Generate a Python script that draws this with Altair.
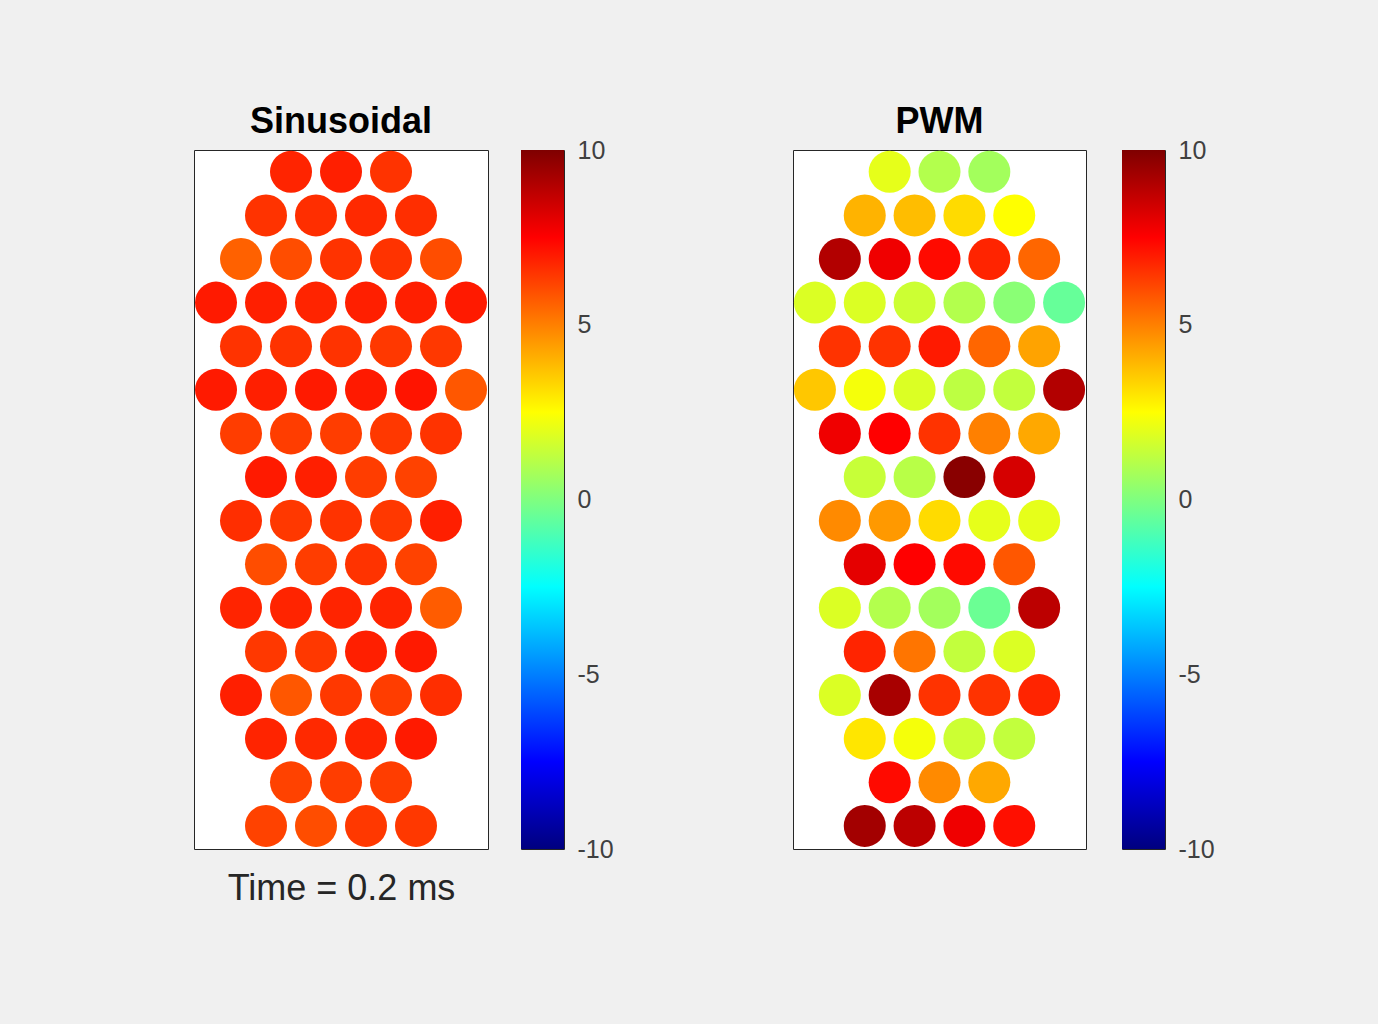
import altair as alt
import pandas as pd

# ---- layout of the electrode grid (half-step column index, row index) ----
ROW_COLUMNS = [
    [3, 5, 7],
    [2, 4, 6, 8],
    [1, 3, 5, 7, 9],
    [0, 2, 4, 6, 8, 10],
    [1, 3, 5, 7, 9],
    [0, 2, 4, 6, 8, 10],
    [1, 3, 5, 7, 9],
    [2, 4, 6, 8],
    [1, 3, 5, 7, 9],
    [2, 4, 6, 8],
    [1, 3, 5, 7, 9],
    [2, 4, 6, 8],
    [1, 3, 5, 7, 9],
    [2, 4, 6, 8],
    [3, 5, 7],
    [2, 4, 6, 8],
]

SIN_VALUES = [
    [6.8, 6.9, 6.5],
    [6.5, 6.6, 6.7, 6.6],
    [5.6, 6.0, 6.5, 6.5, 6.0],
    [7.0, 6.9, 6.8, 6.9, 6.9, 7.0],
    [6.5, 6.5, 6.5, 6.4, 6.4],
    [7.0, 6.9, 7.0, 7.0, 7.1, 5.8],
    [6.3, 6.3, 6.3, 6.4, 6.5],
    [7.0, 6.9, 6.3, 6.2],
    [6.6, 6.4, 6.5, 6.4, 6.9],
    [6.0, 6.3, 6.5, 6.2],
    [6.8, 6.8, 6.8, 6.8, 5.7],
    [6.4, 6.4, 6.9, 7.0],
    [6.9, 5.8, 6.4, 6.3, 6.6],
    [6.8, 6.7, 6.8, 7.0],
    [6.2, 6.3, 6.3],
    [6.2, 6.0, 6.4, 6.4],
]

PWM_VALUES = [
    [2.0, 1.0, 0.7],
    [4.0, 3.8, 3.2, 2.5],
    [9.0, 7.8, 7.3, 6.8, 5.5],
    [1.8, 1.8, 1.5, 1.0, 0.2, -0.5],
    [6.5, 6.5, 7.0, 5.5, 4.3],
    [3.6, 2.3, 1.8, 1.2, 1.3, 9.0],
    [7.8, 7.5, 6.5, 5.0, 4.2],
    [1.4, 1.1, 9.8, 8.3],
    [4.8, 4.5, 3.2, 2.0, 2.0],
    [8.0, 7.5, 7.3, 5.8],
    [1.8, 1.0, 0.7, -0.4, 8.8],
    [6.8, 5.2, 1.3, 1.8],
    [1.8, 9.2, 6.5, 6.5, 6.8],
    [3.0, 2.3, 1.5, 1.3],
    [7.3, 4.8, 4.2],
    [9.3, 8.8, 7.8, 7.2],
]

TITLES = ["Sinusoidal", "PWM"]
XLABEL = "Time = 0.2 ms"
CBAR_TICKS = [-10, -5, 0, 5, 10]
CLIM = [-10, 10]

# jet colormap
JET_POS = [-10, -7.5, -2.5, 2.5, 7.5, 10]
JET_COLORS = ["#00007f", "#0000ff", "#00ffff", "#ffff00", "#ff0000", "#7f0000"]

FONT = "Liberation Sans"


def make_df(values):
    recs = []
    for r, (cols, vals) in enumerate(zip(ROW_COLUMNS, values)):
        for c, v in zip(cols, vals):
            recs.append({"col": c, "row": r + 1, "value": v})
    return pd.DataFrame(recs)


jet_scale = alt.Scale(domain=JET_POS, range=JET_COLORS, interpolate="rgb")


def panel(values, title, xlabel=None, width=294):
    if xlabel:
        xaxis = alt.Axis(title=xlabel, ticks=False, labels=False, domain=False, grid=False,
                         titleFontSize=36, titleFontWeight="normal", titleColor="#262626",
                         titlePadding=22, titleFont=FONT)
    else:
        xaxis = None
    return alt.Chart(make_df(values)).mark_point(
        filled=True, shape="circle", size=1764, opacity=1, strokeWidth=0
    ).encode(
        x=alt.X("col:Q", scale=alt.Scale(domain=[-0.88, 10.88], nice=False, zero=False), axis=xaxis),
        y=alt.Y("row:Q", scale=alt.Scale(domain=[0.5, 16.53], reverse=True, nice=False, zero=False), axis=None),
        color=alt.Color("value:Q", scale=jet_scale, legend=None),
    ).properties(
        width=width, height=699,
        title=alt.TitleParams(title, fontSize=36, fontWeight="bold", font=FONT, color="#000000",
                              offset=9, anchor="middle"),
    )


grad_stops = [{"offset": (p - CLIM[0]) / (CLIM[1] - CLIM[0]), "color": c} for p, c in zip(JET_POS, JET_COLORS)]
gradient = {"gradient": "linear", "x1": 0, "y1": 1, "x2": 0, "y2": 0, "stops": grad_stops}


def colorbar():
    return alt.Chart(pd.DataFrame({"lo": [CLIM[0]], "hi": [CLIM[1]]})).mark_rect(
        fill=gradient
    ).encode(
        y=alt.Y("lo:Q", scale=alt.Scale(domain=CLIM, nice=False, zero=False),
                axis=alt.Axis(orient="right", values=CBAR_TICKS, ticks=False, domain=False, grid=False,
                              labelFontSize=25, labelPadding=13, title=None, labelColor="#404040",
                              labelFont=FONT, labelExpr="'' + datum.value")),
        y2="hi:Q",
        x=alt.value(0),
        x2=alt.value("width"),
    ).properties(width=43, height=699)


left = alt.hconcat(panel(SIN_VALUES, TITLES[0], XLABEL, 294), colorbar(), spacing=31)
right = alt.hconcat(panel(PWM_VALUES, TITLES[1], None, 293), colorbar(), spacing=34)

chart = alt.hconcat(left, right, spacing=178).properties(
    padding={"left": 193, "top": 103, "right": 163, "bottom": 117},
    background="#f0f0f0",
).configure(font=FONT).configure_view(fill="white", stroke="#262626", strokeWidth=1)

chart.save("out.html", embed_options={"renderer": "svg", "actions": False})
